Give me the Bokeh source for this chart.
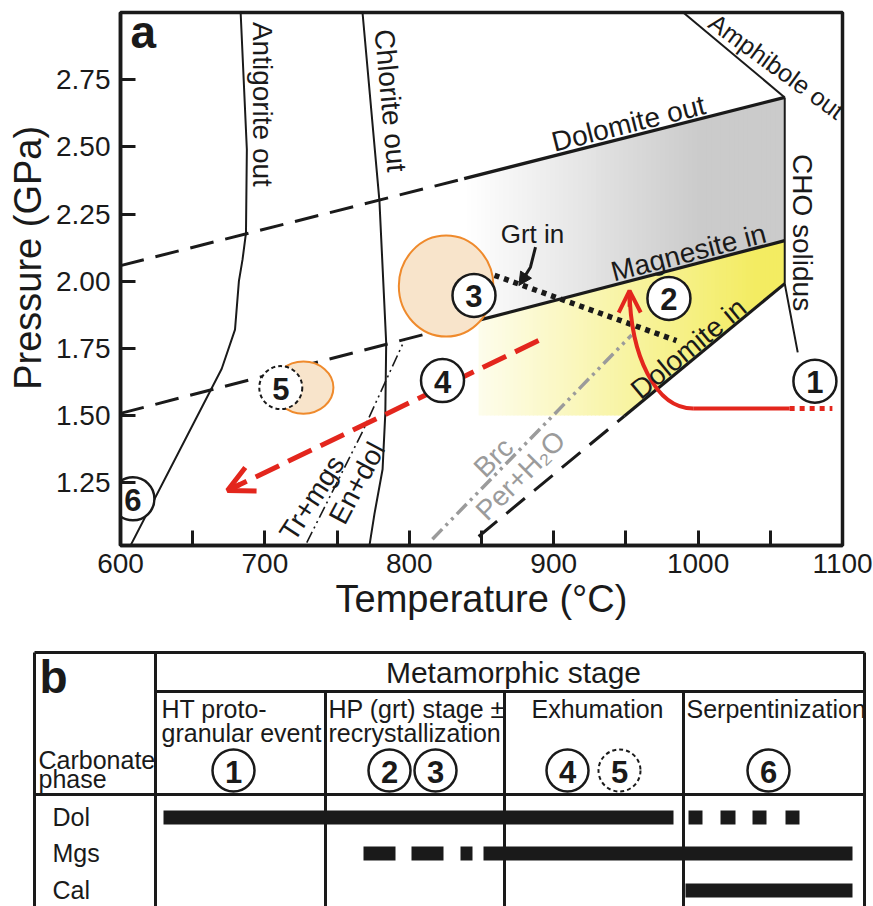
import numpy as np
from bokeh.plotting import figure
from bokeh.layouts import column
from bokeh.models import Range1d, FixedTicker, Label, Arrow, OpenHead, NormalHead, ColumnDataSource, Title
from bokeh.core.properties import value
from bokeh.embed import file_html
from bokeh.resources import INLINE

FONT = "Liberation Sans"
INK = "#1a1a1a"
RED = "#e3261d"
GRAYLINE = "#9b9b9b"

# ---------------- Panel a data (T in degC, P in GPa) ----------------
x_ticks = [600, 650, 700, 750, 800, 850, 900, 950, 1000, 1050, 1100]
x_tick_labels = ["600", "", "700", "", "800", "", "900", "", "1000", "", "1100"]
y_ticks = [1.25, 1.50, 1.75, 2.00, 2.25, 2.50, 2.75]
y_tick_labels = ["1.25", "1.50", "1.75", "2.00", "2.25", "2.50", "2.75"]

antigorite_T = [683.2, 687.5, 686.9, 684.5, 682.0, 679.3, 670.1, 606.9]
antigorite_P = [3.0, 2.49, 2.18, 2.08, 2.0, 1.82, 1.674, 1.016]
chlorite_T = [767.6, 779.3, 784.0, 783.4, 781.5, 775.9, 772.4]
chlorite_P = [3.0, 2.30, 1.77, 1.51, 1.30, 1.135, 1.016]
dol_out_T = [600, 1060]
dol_out_P = [2.058, 2.684]
dol_out_break_T = 838
mgs_in_T = [600, 1060]
mgs_in_P = [1.508, 2.151]
mgs_in_break_T = 841
dol_in_T = [848, 1060]
dol_in_P = [1.05, 1.991]
dol_in_break_T = 949
amph_T = [989.7, 1060]
amph_P = [3.0, 2.684]
cho_T = [1060, 1060, 1069]
cho_P = [2.684, 1.991, 1.735]
grt_T = [846, 985]
grt_P = [2.047, 1.779]
brc_T = [816, 954]
brc_P = [1.04, 1.80]
trmgs_T = [729, 767.6, 796.6]
trmgs_P = [1.027, 1.44, 1.78]

yellow_floor_P = 1.5
yellow_left_T = 848
gray_left_T = 840

grt_arrow_T = [887.4, 883.9, 878.1, 875.9]
grt_arrow_P = [2.127, 2.052, 2.002, 1.984]

path12_T = [1063.4, 996.6]          # horizontal solid part
path12_P = [1.526, 1.526]
path12_ext_T = [1063.4, 1093.0]     # dotted extension
path12_curve_T = [996.6, 970.5, 953.2, 952.5]   # start, c0, c1, end
path12_curve_P = [1.526, 1.526, 1.7235, 1.965]
path46_T = [889.5, 674.1]
path46_P = [1.779, 1.221]

blob_T = [825.5, 726.7]
blob_P = [1.982, 1.604]
blob_dT = [65.5, 41.5]
blob_dP = [0.376, 0.194]

stage_labels = ["1", "2", "3", "4", "5", "6"]
stage_T = [1080.9, 979.8, 844.8, 823.0, 711.0, 608.6]
stage_P = [1.628, 1.936, 1.947, 1.630, 1.604, 1.190]
stage_dashed = [False, False, False, False, True, False]

# ---------------- Panel b data (table) ----------------
tbl_cols = [34, 155, 325, 504, 683, 864]
tbl_rows = [652, 691, 794]
tbl_bottom = 906
stage_names_1 = ["HT proto-", "HP (grt) stage \u00b1", "Exhumation", "Serpentinization"]
stage_names_2 = ["granular event", "recrystallization", "", ""]
tbl_circle_labels = ["1", "2", "3", "4", "5", "6"]
tbl_circle_x = [233, 389, 435, 567, 619, 768]
tbl_circle_dashed = [False, False, False, False, True, False]
phases = ["Dol", "Mgs", "Cal"]
phase_y = [817, 853, 890]
dol_left = [163, 688, 720, 752, 785]
dol_right = [673, 702, 735, 766, 799]
mgs_left = [363, 411, 460, 483]
mgs_right = [395, 443, 472, 852]
cal_left = [685]
cal_right = [852]


def lin(Ts, Ps, T):
    return np.interp(T, Ts, Ps)


def blend(hexcol, t):
    r, g, b = int(hexcol[1:3], 16), int(hexcol[3:5], 16), int(hexcol[5:7], 16)
    r = round(255 + (r - 255) * t)
    g = round(255 + (g - 255) * t)
    b = round(255 + (b - 255) * t)
    return "#%02x%02x%02x" % (r, g, b)


p = figure(width=873, height=640, x_range=Range1d(600, 1100), y_range=Range1d(1.0164, 3.0),
           output_backend="svg", toolbar_location=None,
           min_border_left=120, min_border_right=31, min_border_top=12, min_border_bottom=95)
p.grid.visible = False
p.background_fill_color = "white"
p.border_fill_color = "white"
p.outline_line_color = INK
p.outline_line_width = 3.5

p.xaxis.ticker = FixedTicker(ticks=x_ticks)
p.xaxis.major_label_overrides = {t: l for t, l in zip(x_ticks, x_tick_labels)}
p.yaxis.ticker = FixedTicker(ticks=y_ticks)
p.yaxis.major_label_overrides = {t: l for t, l in zip(y_ticks, y_tick_labels)}
for ax in (p.xaxis, p.yaxis):
    ax.axis_line_width = 3.5
    ax.axis_line_color = INK
    ax.major_tick_in = 15
    ax.major_tick_out = 0
    ax.major_tick_line_width = 3
    ax.major_tick_line_color = INK
    ax.minor_tick_line_color = None
    ax.major_label_text_font = FONT
    ax.major_label_text_font_size = "28px"
    ax.major_label_text_color = INK
p.xaxis.major_label_standoff = 8
p.yaxis.major_label_standoff = 10
p.xaxis.axis_label = "Temperature (\u00b0C)"
p.xaxis.axis_label_text_font = FONT
p.xaxis.axis_label_text_font_size = "38px"
p.xaxis.axis_label_text_font_style = "normal"
p.xaxis.axis_label_text_color = INK
p.xaxis.axis_label_standoff = 2
p.add_layout(Title(text="\u00a0\u00a0\u00a0\u00a0Pressure (GPa)", align="center", text_font=FONT,
                   text_font_size="38px", text_font_style="normal", text_color=INK,
                   standoff=9), "left")

# --- gray gradient between Dolomite out and Magnesite in
edges = np.linspace(gray_left_T, 1060, 70)
xs, ys, cols = [], [], []
for a, b in zip(edges[:-1], edges[1:]):
    b2 = min(b + 0.8, 1060)
    xs.append([a, b2, b2, a])
    ys.append([lin(mgs_in_T, mgs_in_P, a), lin(mgs_in_T, mgs_in_P, b2),
               lin(dol_out_T, dol_out_P, b2), lin(dol_out_T, dol_out_P, a)])
    t = np.clip(((a + b) / 2 - gray_left_T) / (1000 - gray_left_T), 0, 1)
    cols.append(blend("#cbcbcb", t))
p.patches(xs, ys, fill_color=cols, line_color=None)

# --- yellow gradient
edges = np.linspace(yellow_left_T, 1060, 80)
xs, ys, cols = [], [], []
for a, b in zip(edges[:-1], edges[1:]):
    b2 = min(b + 0.8, 1060)
    bot_a = max(yellow_floor_P, lin(dol_in_T, dol_in_P, a))
    bot_b = max(yellow_floor_P, lin(dol_in_T, dol_in_P, b2))
    xs.append([a, b2, b2, a])
    ys.append([bot_a, bot_b, lin(mgs_in_T, mgs_in_P, b2), lin(mgs_in_T, mgs_in_P, a)])
    t = 0.12 + 0.88 * np.clip(((a + b) / 2 - yellow_left_T) / (1040 - yellow_left_T), 0, 1)
    cols.append(blend("#f3ec62", t))
p.patches(xs, ys, fill_color=cols, line_color=None)

# --- phase boundaries
p.line(antigorite_T, antigorite_P, line_color=INK, line_width=2)
p.line(chlorite_T, chlorite_P, line_color=INK, line_width=2)
p.line(amph_T, amph_P, line_color=INK, line_width=2)
p.line(cho_T, cho_P, line_color=INK, line_width=2)


def split_line(Ts, Ps, brk):
    pb = lin(Ts, Ps, brk)
    return [Ts[0], brk], [Ps[0], pb], [brk, Ts[-1]], [pb, Ps[-1]]


for Ts, Ps, brk in ((dol_out_T, dol_out_P, dol_out_break_T),
                    (mgs_in_T, mgs_in_P, mgs_in_break_T),
                    (dol_in_T, dol_in_P, dol_in_break_T)):
    a1, a2, b1, b2 = split_line(Ts, Ps, brk)
    p.line(a1, a2, line_color=INK, line_width=3, line_dash="24 12")
    p.line(b1, b2, line_color=INK, line_width=3.2)

p.line(trmgs_T, trmgs_P, line_color=INK, line_width=1.6, line_dash="12 4 2 4 2 4")
p.line(brc_T, brc_P, line_color=GRAYLINE, line_width=3.5, line_dash="14 5 3 5 3 5")
p.line(grt_T, grt_P, line_color=INK, line_width=5.5, line_dash="5 5")

# --- Grt in pointer
p.line(grt_arrow_T[:3], grt_arrow_P[:3], line_color=INK, line_width=3)
p.add_layout(Arrow(end=NormalHead(size=13, fill_color=INK, line_color=INK),
                   x_start=grt_arrow_T[2], y_start=grt_arrow_P[2],
                   x_end=grt_arrow_T[3], y_end=grt_arrow_P[3],
                   line_color=INK, line_width=3))

# --- estimate blobs
p.ellipse(blob_T, blob_P, width=blob_dT, height=blob_dP,
          fill_color="#f8e4cb", line_color="#ef8a2c", line_width=2)

# --- red P-T paths
p.line(path12_T, path12_P, line_color=RED, line_width=4)
p.line(path12_ext_T, path12_P, line_color=RED, line_width=5, line_dash="5 5")
p.bezier(x0=[path12_curve_T[0]], y0=[path12_curve_P[0]],
         cx0=[path12_curve_T[1]], cy0=[path12_curve_P[1]],
         cx1=[path12_curve_T[2]], cy1=[path12_curve_P[2]],
         x1=[path12_curve_T[3]], y1=[path12_curve_P[3]],
         line_color=RED, line_width=4)
p.add_layout(Arrow(end=OpenHead(size=22, line_color=RED, line_width=4),
                   x_start=path12_curve_T[3] + 0.1, y_start=path12_curve_P[3] - 0.06,
                   x_end=path12_curve_T[3], y_end=path12_curve_P[3],
                   line_color=RED, line_width=4))
p.line(path46_T, path46_P, line_color=RED, line_width=5, line_dash="26 10")
frac = 0.04
p.add_layout(Arrow(end=OpenHead(size=26, line_color=RED, line_width=5),
                   x_start=path46_T[1] + frac * (path46_T[0] - path46_T[1]),
                   y_start=path46_P[1] + frac * (path46_P[0] - path46_P[1]),
                   x_end=path46_T[1], y_end=path46_P[1],
                   line_color=RED, line_width=5))

# --- stage circles
solid_idx = [i for i, d in enumerate(stage_dashed) if not d]
dash_idx = [i for i, d in enumerate(stage_dashed) if d]
p.scatter([stage_T[i] for i in solid_idx], [stage_P[i] for i in solid_idx], size=43,
          marker="circle", fill_color="white", line_color=INK, line_width=2.5)
p.scatter([stage_T[i] for i in dash_idx], [stage_P[i] for i in dash_idx], size=43,
          marker="circle", fill_color="white", line_color=INK, line_width=2, line_dash="4 3")
p.text(stage_T, stage_P, text=stage_labels, text_font=value(FONT), text_font_style="bold",
       text_font_size=value("31px"), text_align="center", text_baseline="middle",
       text_color=INK, y_offset=1)

# --- labels
lab = ColumnDataSource(dict(
    x=[698.3, 787.0, 951.8, 993.4, 993.4, 1054.5, 1072.3, 858.3, 877.0, 732.6, 763.8, 885.3],
    y=[2.658, 2.672, 2.587, 2.107, 1.750, 2.800, 2.181, 1.344, 1.277, 1.193, 1.249, 2.1775],
    text=["Antigorite out", "Chlorite out", "Dolomite out", "Magnesite in", "Dolomite in",
          "Amphibole out", "CHO solidus", "Brc", "Per+H\u2082O", "Tr+mgs", "En+dol", "Grt in"],
    angle=[-90, -84.8, 14.1, 14.5, 39.7, -36, -90, 45, 45, 57, 62, 0],
    size=["28px"] * 5 + ["25px"] + ["28px"] * 5 + ["26px"],
    color=[INK] * 7 + [GRAYLINE, GRAYLINE] + [INK, INK, INK],
))
p.text("x", "y", text="text", angle="angle", angle_units="deg", source=lab,
       text_font=value(FONT), text_font_size="size", text_align="center",
       text_baseline="middle", text_color="color")

p.add_layout(Label(x=606.9, y=2.929, text="a", text_font=FONT, text_font_style="bold",
                   text_font_size="46px", text_baseline="middle", text_color=INK))

# ---------------- Panel b ----------------
q = figure(width=873, height=266, x_range=Range1d(0, 873), y_range=Range1d(906, 640),
           output_backend="svg", toolbar_location=None, x_axis_type=None, y_axis_type=None,
           min_border=0)
q.grid.visible = False
q.outline_line_color = None
q.background_fill_color = "white"
q.border_fill_color = "white"
for fig in (p, q):
    if "frame_align" in fig.properties():
        fig.frame_align = False

L, C1, C2, C3, C4, R = tbl_cols
top, hdr, sub = tbl_rows
seg_x0 = [L, L, R, C1, C1, L, C2, C3, C4]
seg_x1 = [R, L, R, C1, R, R, C2, C3, C4]
seg_y0 = [top, top, top, top, hdr, sub, hdr, hdr, hdr]
seg_y1 = [top, tbl_bottom, tbl_bottom, tbl_bottom, hdr, sub, tbl_bottom, tbl_bottom, tbl_bottom]
q.segment(seg_x0, seg_y0, seg_x1, seg_y1, line_color=INK, line_width=3)

bar_h = 14
for lefts, rights, yc in ((dol_left, dol_right, phase_y[0]), (mgs_left, mgs_right, phase_y[1]),
                          (cal_left, cal_right, phase_y[2])):
    q.quad(left=lefts, right=rights, top=[yc - bar_h / 2] * len(lefts),
           bottom=[yc + bar_h / 2] * len(lefts), fill_color=INK, line_color=None)

q.text([39], [676], text=["b"], text_font=value(FONT), text_font_style="bold",
       text_font_size=value("46px"), text_baseline="middle", text_color=INK)
q.text([513], [672], text=["Metamorphic stage"], text_font=value(FONT),
       text_font_size=value("30px"), text_align="center", text_baseline="middle", text_color=INK)
q.text([161, 328, 597, 686], [708] * 4, text=stage_names_1, text_font=value(FONT),
       text_font_size=value("25px"), text_align=["left", "left", "center", "left"],
       text_baseline="middle", text_color=INK)
q.text([161, 328], [732] * 2, text=stage_names_2[:2], text_font=value(FONT),
       text_font_size=value("25px"), text_baseline="middle", text_color=INK)
q.text([38, 38], [759, 778], text=["Carbonate", "phase"], text_font=value(FONT),
       text_font_size=value("25px"), text_baseline="middle", text_color=INK)
q.text([52] * 3, [y - 1 for y in phase_y], text=phases, text_font=value(FONT),
       text_font_size=value("25px"), text_baseline="middle", text_color=INK)

s_idx = [i for i, d in enumerate(tbl_circle_dashed) if not d]
d_idx = [i for i, d in enumerate(tbl_circle_dashed) if d]
q.scatter([tbl_circle_x[i] for i in s_idx], [770] * len(s_idx), size=42, marker="circle",
          fill_color="white", line_color=INK, line_width=2.5)
q.scatter([tbl_circle_x[i] for i in d_idx], [770] * len(d_idx), size=42, marker="circle",
          fill_color="white", line_color=INK, line_width=2, line_dash="4 3")
q.text(tbl_circle_x, [770] * 6, text=tbl_circle_labels, text_font=value(FONT),
       text_font_style="bold", text_font_size=value("31px"), text_align="center",
       text_baseline="middle", text_color=INK, y_offset=1)

layout = column(p, q, spacing=0)
open("out.html", "w").write(file_html(layout, INLINE))
